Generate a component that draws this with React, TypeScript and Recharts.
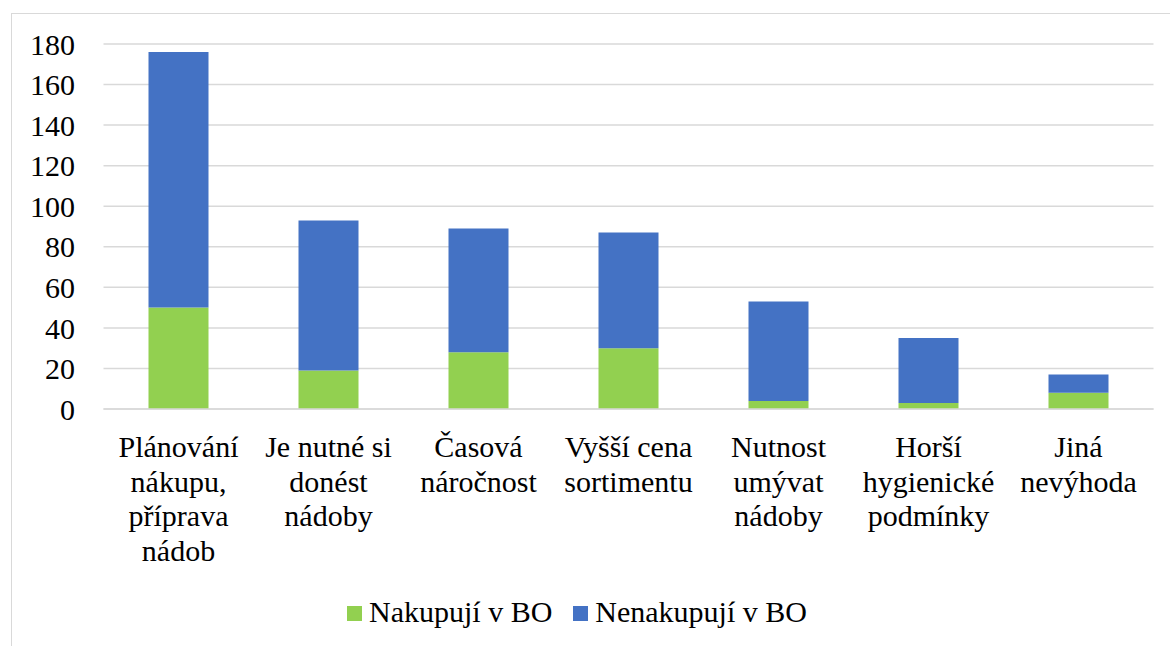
import React from 'react';
import { BarChart, Bar, XAxis, YAxis, CartesianGrid } from 'recharts';

const GREEN = '#92D050';
const BLUE = '#4472C4';
const GRID = '#D9D9D9';
const TEXT = '#000000';
const FONT = 'Liberation Serif, Tinos, Times New Roman, DejaVu Serif, serif';

const categories = [
  'Plánování nákupu, příprava nádob',
  'Je nutné si donést nádoby',
  'Časová náročnost',
  'Vyšší cena sortimentu',
  'Nutnost umývat nádoby',
  'Horší hygienické podmínky',
  'Jiná nevýhoda',
];

// wrapped tick labels, as Excel breaks them
const tickLines = [
  ['Plánování', 'nákupu,', 'příprava', 'nádob'],
  ['Je nutné si', 'donést', 'nádoby'],
  ['Časová', 'náročnost'],
  ['Vyšší cena', 'sortimentu'],
  ['Nutnost', 'umývat', 'nádoby'],
  ['Horší', 'hygienické', 'podmínky'],
  ['Jiná', 'nevýhoda'],
];

const nakupuji = [50, 19, 28, 30, 4, 3, 8];
const nenakupuji = [126, 74, 61, 57, 49, 32, 9];

const yTicks = [0, 20, 40, 60, 80, 100, 120, 140, 160, 180];

const seriesNames = ['Nakupují v BO', 'Nenakupují v BO'];

const data = categories.map((name, i) => ({
  name,
  nakupuji: nakupuji[i],
  nenakupuji: nenakupuji[i],
}));

function CategoryTick(props: any) {
  const { x, y, index } = props;
  const lines = tickLines[index] || [];
  return (
    <g transform={`translate(${x},${y})`}>
      {lines.map((line, i) => (
        <text
          key={i}
          x={0}
          y={48 + i * 34.5}
          textAnchor="middle"
          fill={TEXT}
          style={{ fontSize: 30, fontFamily: FONT }}
        >
          {line}
        </text>
      ))}
    </g>
  );
}

export default function App() {
  return (
    <div
      style={{
        position: 'absolute',
        left: 0,
        top: 0,
        width: 1170,
        height: 646,
        background: '#fff',
        overflow: 'hidden',
        fontFamily: FONT,
      }}
    >
      {/* chart frame: only top and left edges are in view */}
      <div
        style={{
          position: 'absolute',
          left: 10.5,
          top: 12.5,
          width: 1200,
          height: 700,
          borderTop: `1.5px solid ${GRID}`,
          borderLeft: `1.5px solid ${GRID}`,
        }}
      />
      <div style={{ position: 'absolute', left: 0, top: 0 }}>
        <BarChart
          width={1170}
          height={646}
          data={data}
          margin={{ top: 44, right: 16.5, left: 0, bottom: 87 }}
          barSize={60}
          style={{ fontFamily: FONT }}
        >
          <CartesianGrid vertical={false} stroke={GRID} strokeWidth={1.5} />
          <XAxis
            dataKey="name"
            height={150}
            interval={0}
            tickLine={false}
            axisLine={{ stroke: GRID, strokeWidth: 1.5 }}
            tickSize={0}
            tickMargin={0}
            tick={<CategoryTick />}
          />
          <YAxis
            width={103.5}
            domain={[0, 180]}
            ticks={yTicks}
            interval={0}
            axisLine={false}
            tickLine={false}
            tickSize={0}
            tickMargin={28.5}
            tick={{ fill: TEXT, fontSize: 30, style: { fontFamily: FONT } }}
          />
          <Bar dataKey="nakupuji" stackId="a" fill={GREEN} isAnimationActive={false} />
          <Bar dataKey="nenakupuji" stackId="a" fill={BLUE} isAnimationActive={false} />
        </BarChart>
      </div>
      <div
        style={{
          position: 'absolute',
          left: 347,
          top: 597,
          display: 'flex',
          alignItems: 'center',
          fontSize: 30,
          lineHeight: '30px',
          color: TEXT,
          whiteSpace: 'nowrap',
        }}
      >
        {seriesNames.map((s, i) => (
          <div key={s} style={{ display: 'flex', alignItems: 'center', marginRight: i === 0 ? 21 : 0 }}>
            <span
              style={{
                display: 'inline-block',
                width: 15,
                height: 15,
                background: i === 0 ? GREEN : BLUE,
                marginRight: 7,
                marginTop: 2,
              }}
            />
            <span>{s}</span>
          </div>
        ))}
      </div>
    </div>
  );
}
